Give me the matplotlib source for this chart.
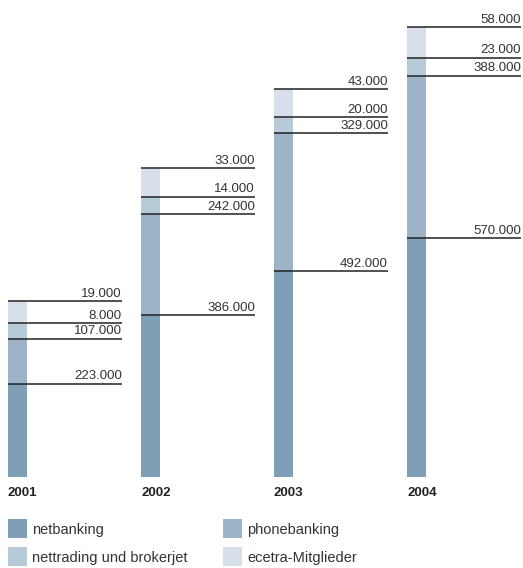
import matplotlib as mpl
mpl.use('Agg')
import matplotlib.pyplot as plt
from matplotlib.patches import Rectangle

plt.rcParams['font.family'] = ['Liberation Sans', 'DejaVu Sans']

years = ['2001', '2002', '2003', '2004']
series = ['netbanking', 'phonebanking', 'nettrading und brokerjet', 'ecetra-Mitglieder']
colors = ['#7f9fb6', '#9cb3c8', '#b6cad8', '#d6dfea']

# printed values (thousands)
netbanking   = [223, 386, 492, 570]
phonebanking = [107, 242, 329, 388]
nettrading   = [8, 14, 20, 23]
ecetra       = [19, 33, 43, 58]

# the two small segments are drawn larger than scale in the original
nettrading_drawn = [38, 41, 38, 43]
ecetra_drawn     = [52, 69, 67, 72]

labels = [[f'{v:,}.000'.replace(',', '.') for v in s]
          for s in (netbanking, phonebanking, nettrading, ecetra)]

W, H = 523, 568
fig = plt.figure(figsize=(W/100, H/100), dpi=100)
ax = fig.add_axes([0, 0, 1, 1])
ax.axis('off')

px = 0.419  # pixels per thousand
ax.set_xlim(-17.5/133, (W-17.5)/133)
ax.set_ylim(-(H-477)/px, 477/px)

bw = 19/133
line_len = 114/133
heights = [netbanking, phonebanking, nettrading_drawn, ecetra_drawn]
for i, yr in enumerate(years):
    bottom = 0
    for k in range(4):
        h = heights[k][i]
        ax.bar(i, h, bw, bottom=bottom, color=colors[k], lw=0)
        top = bottom + h
        x0 = i - bw/2
        ax.plot([x0, x0 + line_len], [top, top], color='#222222', lw=1.1,
                solid_capstyle='butt')
        ax.text(x0 + line_len, top + 3, labels[k][i], ha='right', va='bottom',
                fontsize=9.5, color='#333333')
        bottom = top
    fig.text((8 + 133*i)/W, 1 - 493/H, yr, ha='left', va='center',
             fontsize=9.5, fontweight='bold', color='#222222')

# legend
leg_pos = [(8, 519), (223, 519), (8, 547), (223, 547)]
for k, (lx, ly) in enumerate(leg_pos):
    fig.add_artist(Rectangle((lx/W, 1 - (ly+19)/H), 19/W, 19/H,
                             transform=fig.transFigure, color=colors[k], lw=0))
    fig.text((lx+24)/W, 1 - (ly+11)/H, series[k], ha='left', va='center',
             fontsize=10.5, color='#333333')

fig.savefig('out.png', dpi=100)
